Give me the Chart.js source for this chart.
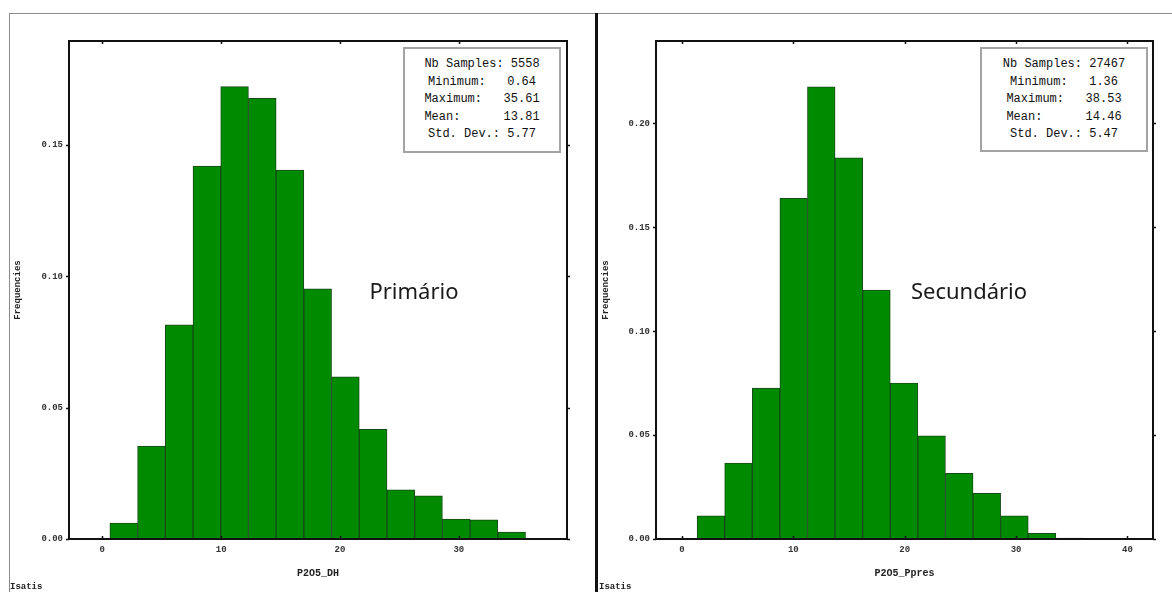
<!DOCTYPE html>
<html>
<head>
<meta charset="utf-8">
<script src="https://cdn.jsdelivr.net/npm/chart.js@4.4.1/dist/chart.umd.min.js"></script>
<style>
  html, body { margin: 0; padding: 0; background: #fff; }
  body { width: 1172px; height: 592px; position: relative; overflow: hidden; }
  .panel { position: absolute; top: 0; height: 592px; }
  .frame-top { position: absolute; left: 9px; top: 13px; width: 1163px; border-top: 1px solid #8c8c8c; }
  .frame-left { position: absolute; left: 9px; top: 13px; height: 579px; border-left: 1px solid #8c8c8c; }
  .divider { position: absolute; left: 595px; top: 13px; width: 3px; height: 579px; background: #111; }
  .stats { position: absolute; box-sizing: border-box; border: 2px solid #a3a3a3; background: #fff;
           font: 12px "Liberation Mono", monospace; color: #111; white-space: pre; text-align: center;
           line-height: 17.5px; padding-top: 7px; }
  .tag { position: absolute; transform: translate(-50%, -50%); font: 22px "Noto Sans", sans-serif; color: #1a1a1a; }
  .isatis { position: absolute; top: 582px; font: bold 9px "Liberation Mono", monospace; color: #222; }
</style>
</head>
<body>
<div class="frame-top"></div>
<div class="frame-left"></div>

<div class="panel" style="left:0; width:596px;"><canvas id="chartPrim"></canvas></div>
<div class="panel" style="left:599px; width:573px;"><canvas id="chartSec"></canvas></div>

<div class="divider"></div>

<div class="stats" id="statsPrim" style="left:403px; top:47px; width:158px; height:106px;"></div>
<div class="stats" id="statsSec" style="left:980px; top:47px; width:168px; height:105px;"></div>

<div class="tag" style="left:414px; top:290px;">Primário</div>
<div class="tag" style="left:969px; top:290px;">Secundário</div>

<div class="isatis" style="left:10px;">Isatis</div>
<div class="isatis" style="left:599px;">Isatis</div>

<script>
// histogram frequencies, 15 equal bins between min and max
const freqPrimario = [0.0061, 0.0354, 0.0815, 0.1420, 0.1722, 0.1678, 0.1405, 0.0952, 0.0617, 0.0418, 0.0187, 0.0164, 0.0076, 0.0073, 0.0026];
const freqSecundario = [0.0111, 0.0366, 0.0727, 0.1640, 0.2177, 0.1835, 0.1198, 0.0751, 0.0496, 0.0316, 0.0220, 0.0112, 0.0027, 0.0005, 0.0001];

const statLabels = ["Nb Samples:", "Minimum:", "Maximum:", "Mean:", "Std. Dev.:"];
const statsPrimario = ["5558", "0.64", "35.61", "13.81", "5.77"];
const statsSecundario = ["27467", "1.36", "38.53", "14.46", "5.47"];

const xTicksPrim = [0, 10, 20, 30];
const xTicksSec = [0, 10, 20, 30, 40];
const yTicksPrim = [0, 0.05, 0.10, 0.15];
const yTicksSec = [0, 0.05, 0.10, 0.15, 0.20];

const tickFont = { family: "Liberation Mono", size: 9, weight: "bold" };

function fillStats(id, values) {
    const lines = statLabels.map((lbl, i) => (lbl + " ").padEnd(11) + values[i]);
    document.getElementById(id).textContent = lines.join("\n");
}

// bin centres from the min / max shown in the stats box
function binPoints(freqs, min, max) {
    const w = (max - min) / freqs.length;
    return freqs.map((f, i) => ({ x: min + (i + 0.5) * w, y: f }));
}

// plot frame + small ticks on all four sides
const frameTicks = {
    id: "frameTicks",
    afterDatasetsDraw(chart) {
        const { ctx, chartArea: a, scales: { x, y } } = chart;
        ctx.save();
        ctx.strokeStyle = "#111";
        ctx.lineWidth = 1.5;
        ctx.beginPath();
        x.ticks.forEach(t => {
            const px = Math.round(x.getPixelForValue(t.value)) + 0.5;
            ctx.moveTo(px, a.bottom); ctx.lineTo(px, a.bottom - 3);
            ctx.moveTo(px, a.top); ctx.lineTo(px, a.top + 3);
        });
        y.ticks.forEach(t => {
            const py = Math.round(y.getPixelForValue(t.value)) + 0.5;
            ctx.moveTo(a.left - 3, py); ctx.lineTo(a.left, py);
            ctx.moveTo(a.right, py); ctx.lineTo(a.right + 3, py);
        });
        ctx.stroke();
        ctx.lineWidth = 2;
        ctx.strokeRect(a.left, a.top, a.right - a.left, a.bottom - a.top);
        ctx.restore();
    }
};

function makeHist(canvasId, cfg) {
    return new Chart(document.getElementById(canvasId), {
        type: "bar",
        data: {
            datasets: [{
                data: binPoints(cfg.freqs, cfg.min, cfg.max),
                backgroundColor: "rgb(0,138,0)",
                borderColor: "#174a17",
                borderWidth: 1,
                barPercentage: 1,
                categoryPercentage: 1
            }]
        },
        options: {
            responsive: true,
            maintainAspectRatio: false,
            animation: false,
            devicePixelRatio: 1,
            layout: { padding: { top: 41, right: cfg.padRight, left: 0, bottom: 0 } },
            plugins: { legend: { display: false }, tooltip: { enabled: false } },
            scales: {
                x: {
                    type: "linear",
                    offset: false,
                    min: cfg.xMin,
                    max: cfg.xMax,
                    grid: { display: false, drawTicks: false, offset: false },
                    border: { display: false },
                    afterBuildTicks: s => { s.ticks = cfg.xTicks.map(v => ({ value: v })); },
                    afterFit: s => { s.height = 53; },
                    ticks: { font: tickFont, color: "#333", padding: 5, maxRotation: 0, autoSkip: false,
                             callback: v => String(v) },
                    title: { display: true, text: cfg.xTitle, font: { family: "Liberation Mono", size: 10, weight: "bold" },
                             color: "#222", padding: { top: 0, bottom: 13 } }
                },
                y: {
                    min: 0,
                    max: cfg.yMax,
                    grid: { display: false, drawTicks: false },
                    border: { display: false },
                    afterBuildTicks: s => { s.ticks = cfg.yTicks.map(v => ({ value: v })); },
                    afterFit: s => { s.width = cfg.yWidth; },
                    ticks: { font: tickFont, color: "#333", padding: 6, autoSkip: false,
                             callback: v => Number(v).toFixed(2) },
                    title: { display: true, text: "Frequencies", font: tickFont, color: "#222",
                             padding: { top: cfg.yTitlePad, bottom: 0 } }
                }
            }
        },
        plugins: [frameTicks]
    });
}

makeHist("chartPrim", {
    freqs: freqPrimario, min: Number(statsPrimario[1]), max: Number(statsPrimario[2]),
    xMin: -2.8, xMax: 39.1, yMax: 0.1896,
    xTicks: xTicksPrim, yTicks: yTicksPrim, xTitle: "P2O5_DH",
    padRight: 29, yWidth: 69, yTitlePad: 12
});

makeHist("chartSec", {
    freqs: freqSecundario, min: Number(statsSecundario[1]), max: Number(statsSecundario[2]),
    xMin: -2.33, xMax: 42.3, yMax: 0.2397,
    xTicks: xTicksSec, yTicks: yTicksSec, xTitle: "P2O5_Ppres",
    padRight: 19, yWidth: 57, yTitlePad: 1
});

fillStats("statsPrim", statsPrimario);
fillStats("statsSec", statsSecundario);
</script>
</body>
</html>
